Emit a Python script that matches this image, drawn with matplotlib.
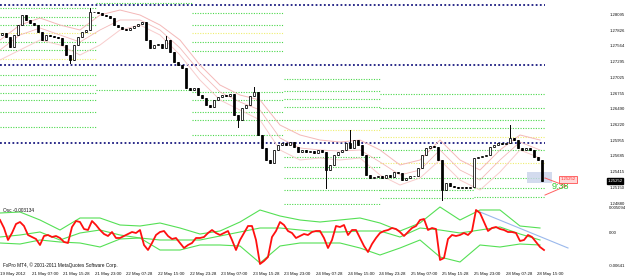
import numpy as np
import matplotlib
matplotlib.use("Agg")
import matplotlib.pyplot as plt
from matplotlib.patches import Rectangle

# ---- price data (one candle per slot, close prices) ----
close = [1.27783, 1.27714, 1.27544, 1.27749, 1.27919, 1.28090, 1.28005, 1.27953, 1.27919, 1.27800,
         1.27663, 1.27749, 1.27731, 1.27714, 1.27697, 1.27578, 1.27407, 1.27322, 1.27578, 1.27714,
         1.27800, 1.27834, 1.28141, 1.28141, 1.28124, 1.28090, 1.28073, 1.28039, 1.27919, 1.27885,
         1.27851, 1.27834, 1.27868, 1.27902, 1.27936, 1.27970, 1.27663, 1.27527, 1.27578, 1.27595,
         1.27527, 1.27663, 1.27458, 1.27288, 1.27236, 1.27185, 1.26844, 1.26810, 1.26844, 1.26724,
         1.26673, 1.26554, 1.26520, 1.26639, 1.26690, 1.26724, 1.26707, 1.26741, 1.26383, 1.26298,
         1.26502, 1.26554, 1.26707, 1.26776, 1.26042, 1.25820, 1.25615, 1.25564, 1.25786, 1.25871,
         1.25905, 1.25871, 1.25922, 1.25837, 1.25751, 1.25786, 1.25751, 1.25768, 1.25734, 1.25786,
         1.25751, 1.25444, 1.25530, 1.25700, 1.25751, 1.25786, 1.25905, 1.25820, 1.25956, 1.25871,
         1.25700, 1.25359, 1.25308, 1.25325, 1.25342, 1.25308, 1.25359, 1.25325, 1.25410, 1.25393,
         1.25273, 1.25308, 1.25342, 1.25342, 1.25478, 1.25700, 1.25820, 1.25854, 1.25837, 1.25615,
         1.25103, 1.25222, 1.25171, 1.25154, 1.25137, 1.25154, 1.25137, 1.25154, 1.25649, 1.25666,
         1.25683, 1.25700, 1.25837, 1.25871, 1.25905, 1.25888, 1.25905, 1.25990, 1.25956, 1.25820,
         1.25786, 1.25820, 1.25786, 1.25666, 1.25615, 1.25252]
first_open = 1.27749
# notable wicks: candle index -> (high, low)
wicks = {17: (1.27400, 1.27271), 22: (1.28209, 1.27834), 41: (1.27731, 1.27527),
         59: (1.26383, 1.26178), 63: (1.26861, 1.26707), 81: (1.25751, 1.25137),
         87: (1.26127, 1.25820), 110: (1.25615, 1.24932), 127: (1.26212, 1.25905)}

# moving-average style curves (sampled every 5 slots)
pink1 = [1.27663, 1.27919, 1.28039, 1.27919, 1.27834, 1.28090, 1.28175, 1.28090, 1.27919, 1.27663,
         1.27236, 1.26895, 1.26724, 1.26639, 1.26212, 1.26042, 1.25956, 1.25922, 1.25956, 1.25786,
         1.25530, 1.25615, 1.25956, 1.25615, 1.25444, 1.25786, 1.26042, 1.25956]
pink2 = [1.27322, 1.27493, 1.27663, 1.27578, 1.27407, 1.27578, 1.27834, 1.27919, 1.27749, 1.27407,
         1.26980, 1.26639, 1.26468, 1.26298, 1.25786, 1.25615, 1.25649, 1.25615, 1.25649, 1.25359,
         1.25188, 1.25308, 1.25615, 1.25273, 1.25103, 1.25410, 1.25786, 1.25649]
pink3 = [1.27493, 1.27749, 1.27868, 1.27749, 1.27629, 1.27834, 1.28005, 1.28005, 1.27834, 1.27527,
         1.27117, 1.26776, 1.26605, 1.26468, 1.25990, 1.25820, 1.25786, 1.25768, 1.25786, 1.25581,
         1.25359, 1.25444, 1.25786, 1.25444, 1.25273, 1.25615, 1.25922, 1.25786]

# daily level lines: (start slot, end slot, green levels, yellow levels)
seg_bounds = [(0, 24), (24, 48), (48, 71), (71, 95), (95, 118.5), (118.5, 136.25)]
seg_green = [
    [1.28209, 1.28056, 1.27919, 1.27629, 1.27493, 1.27066, 1.26895, 1.26758, 1.26639, 1.26434, 1.26178],
    [1.28295, 1.26810],
    [1.28124, 1.27919, 1.27629, 1.27475, 1.26776, 1.26639, 1.26434, 1.26298, 1.26042],
    [1.26997, 1.26793, 1.26656, 1.26520, 1.26298, 1.25666, 1.25495, 1.25308, 1.25103, 1.24864],
    [1.26741, 1.26502, 1.26298, 1.26161, 1.25786, 1.25308, 1.25103, 1.24966],
    [1.26741, 1.26502, 1.26298, 1.26161, 1.25786, 1.25308, 1.25137, 1.24983],
]
seg_yellow = [[1.27783, 1.27339], [], [1.27783], [1.26127], [1.26007, 1.25564], [1.26007, 1.25564]]
navy_levels = [1.28261, 1.27236, 1.25905]

price_ticks = [1.28095, 1.27826, 1.27564, 1.27295, 1.27025, 1.26755, 1.26490,
               1.26220, 1.25955, 1.25685, 1.25415, 1.25150, 1.24880]
last_price = 1.25252

# oscillator (one value per slot)
osc = [0.0026, 0.0010, -0.0014, 0.0, 0.0018, 0.0022, 0.0014, -0.0004, -0.0008, -0.0012,
       -0.0024, -0.0006, -0.0004, -0.0008, -0.0006, -0.0010, -0.0018, -0.0020, 0.0012, 0.0024,
       0.0022, 0.0008, 0.0006, 0.0024, 0.0016, 0.0006, -0.0002, -0.0006, 0.0002, -0.0010,
       -0.0010, -0.0006, -0.0002, 0.0002, 0.0, 0.0006, -0.0024, -0.0034, -0.0020, -0.0004,
       0.0002, 0.0004, -0.0006, -0.0012, -0.0010, -0.0020, -0.0030, -0.0024, -0.0020, -0.0010,
       -0.0010, -0.0008, 0.0, 0.0006, 0.0, -0.0004, 0.0, 0.0004, -0.0014, -0.0034,
       -0.0014, 0.0, 0.0014, 0.0014, -0.0014, -0.0062, -0.0056, -0.0048, -0.0008, 0.0004,
       0.0022, 0.0016, 0.0004, 0.0, -0.0010, -0.0006, -0.0002, -0.0004, 0.0002, 0.0004,
       0.0004, -0.0010, -0.0030, -0.0014, 0.0014, 0.0012, 0.0016, -0.0004, 0.0006, 0.0006,
       -0.0010, -0.0026, -0.0038, -0.0022, -0.0010, 0.0, 0.0004, 0.0006, 0.0010, 0.0008,
       0.0002, -0.0006, 0.0002, 0.0010, 0.0014, 0.0026, 0.0028, 0.0006, 0.0010, 0.0008,
       -0.0054, -0.0050, -0.0012, -0.0004, -0.0006, -0.0004, 0.0, -0.0004, 0.0004, 0.0046,
       0.0040, 0.0022, 0.0004, 0.0010, 0.0012, 0.0008, 0.0006, 0.0002, 0.0002, 0.0,
       -0.0016, -0.0014, -0.0004, -0.0008, -0.0018, -0.0028, -0.0034]
band_up = [0.0040, 0.0042, 0.0026, 0.0006, 0.0030, 0.0030, 0.0016, 0.0014, 0.0020, 0.0010,
           -0.0002, 0.0004, 0.0022, 0.0046, 0.0034, 0.0026, 0.0022, 0.0026, 0.0030, 0.0020,
           0.0004, 0.0020, 0.0052, 0.0026, 0.0046, 0.0046, 0.0014, 0.0010]
band_mid = [-0.0008, -0.0004, 0.0002, -0.0014, 0.0, 0.0006, -0.0004, -0.0010, -0.0014, -0.0014,
            -0.0014, -0.0006, 0.0002, 0.0010, 0.0010, 0.0006, 0.0002, 0.0002, 0.0004, 0.0004,
            -0.0008, 0.0010, 0.0006, 0.0, 0.0006, 0.0012, -0.0002, -0.0014]
band_lo = [-0.0020, -0.0022, -0.0014, -0.0018, -0.0020, -0.0028, -0.0012, -0.0010, -0.0034, -0.0034,
           -0.0024, -0.0024, -0.0026, -0.0060, -0.0026, -0.0020, -0.0020, -0.0020, -0.0030, -0.0044,
           -0.0030, -0.0014, -0.0048, -0.0058, -0.0024, -0.0028, -0.0022, -0.0024]
osc_trend = [(120, 0.0042), (142, -0.0030)]
osc_ticks = [0.005094, 0.0, -0.00641]
osc_ticklabels = ["0.005094", "0.00", "-0.00641"]

time_labels = ["19 May 2012", "21 May 07:00", "21 May 15:28", "21 May 23:00", "22 May 07:28",
               "22 May 15:00", "22 May 23:28", "23 May 07:00", "23 May 15:28", "23 May 23:00",
               "24 May 07:28", "24 May 15:00", "24 May 23:28", "25 May 07:00", "25 May 15:28",
               "25 May 23:00", "28 May 07:28", "28 May 15:00"]

W, H = 625, 278
fig = plt.figure(figsize=(W / 100, H / 100), dpi=100)
fig.patch.set_facecolor("white")
FONT = ["Liberation Sans Narrow", "Liberation Sans", "DejaVu Sans"]
TXT = "#101010"

ax = fig.add_axes([0, 1 - 205 / H, 605 / W, 205 / H])
ox = fig.add_axes([0, 1 - 268 / H, 605 / W, 63 / H])
XMAX = 151.25
for a in (ax, ox):
    a.set_xlim(0, XMAX)
    for s in a.spines.values():
        s.set_visible(False)
    a.set_xticks([])
    a.tick_params(axis="y", length=0, pad=3, labelsize=3.1, labelright=True,
                  labelleft=False, labelcolor=TXT)
ax.set_ylim(1.24847, 1.28346)
ox.set_ylim(-0.0070, 0.0056)

dots = (0, (1, 1.3))
# level lines
for (x0, x1), gl, yl in zip(seg_bounds, seg_green, seg_yellow):
    for lv in gl:
        ax.plot([x0, x1], [lv, lv], color="#4ad84a", lw=0.8, ls=dots, zorder=1)
    for lv in yl:
        ax.plot([x0, x1], [lv, lv], color="#eeee70", lw=0.8, ls=dots, zorder=1)
for lv in navy_levels:
    ax.plot([0, 136.25], [lv, lv], color="#1a1a80", lw=1.3, ls=dots, zorder=2)

# pink curves
px = np.arange(len(pink1)) * 5
ax.plot(px, pink1, color="#f4b8b8", lw=0.7, zorder=2)
ax.plot(px, pink2, color="#f8cccc", lw=0.7, zorder=2)
ax.plot(px, pink3, color="#f0a8a8", lw=0.6, zorder=2, alpha=0.8)

# candles
opens = [first_open] + close[:-1]
for i, (o, c) in enumerate(zip(opens, close)):
    xc = i + 0.5
    hi, lo = wicks.get(i, (max(o, c), min(o, c)))
    ax.plot([xc, xc], [lo, hi], color="black", lw=0.7, zorder=4)
    bull = c >= o
    ax.add_patch(Rectangle((xc - 0.36, min(o, c)), 0.72, max(abs(c - o), 0.00005),
                           facecolor="white" if bull else "black", edgecolor="black",
                           lw=0.55, zorder=5))

# selection box, projection and labels near last bar
ax.add_patch(Rectangle((131.75, 1.25222), 6.25, 0.00188, facecolor="#c9d3ea",
                       edgecolor="none", alpha=0.8, zorder=3))
ax.plot([136.25, 141.5], [1.25308, 1.25171], color="#ff6060", lw=0.7, zorder=6)
ax.plot([136.25, 141.5], [1.25017, 1.25171], color="#ff6060", lw=0.7, zorder=6)
ax.text(137.8, 1.25171, "9:38", color="#33cc33", fontsize=6.5, va="center", ha="left",
        family=FONT, zorder=7)
ax.text(140.2, 1.25290, "1.25252", color="#ff3030", fontsize=3.1, va="center", ha="left",
        family=FONT, zorder=7,
        bbox=dict(boxstyle="square,pad=0.35", fc="#ffd8d8", ec="#ff5050", lw=0.6))

ax.set_yticks(price_ticks)
ax.set_yticklabels([f"{t:.5f}" for t in price_ticks], family=FONT)
ax.text(1.004, (last_price - 1.24847) / (1.28346 - 1.24847), f"{last_price:.5f}",
        transform=ax.transAxes, color="white", fontsize=3.1, va="center", ha="left",
        family=FONT, bbox=dict(boxstyle="square,pad=0.2", fc="black", ec="black"))

# oscillator panel
ox.plot(np.arange(len(band_up)) * 5, band_up, color="#55e055", lw=0.8)
ox.plot(np.arange(len(band_mid)) * 5, band_mid, color="#55e055", lw=0.8)
ox.plot(np.arange(len(band_lo)) * 5, band_lo, color="#55e055", lw=0.8)
ox.plot([p[0] for p in osc_trend], [p[1] for p in osc_trend], color="#9ab8ec", lw=0.8)
ox.plot(np.arange(len(osc)), osc, color="#ff1010", lw=1.3)
ox.set_yticks(osc_ticks)
ox.set_yticklabels(osc_ticklabels, family=FONT)
ox.text(0.005, 0.92, "Osc -0.003134", transform=ox.transAxes, fontsize=3.4, va="center",
        family=FONT, color=TXT)

# texts at the bottom
fig.text(3 / W, 1 - 265 / H, "FxPro MT4, \u00a9 2001-2011 MetaQuotes Software Corp.",
         fontsize=3.4, va="center", ha="left", family=FONT, color=TXT)
for k, lab in enumerate(time_labels):
    xpos = k * 7.9
    ox.text(xpos, -0.0070 - 0.0012, lab, fontsize=3.2, va="center", ha="left",
            family=FONT, color=TXT, clip_on=False)

fig.savefig("out.png", dpi=100, facecolor="white")
